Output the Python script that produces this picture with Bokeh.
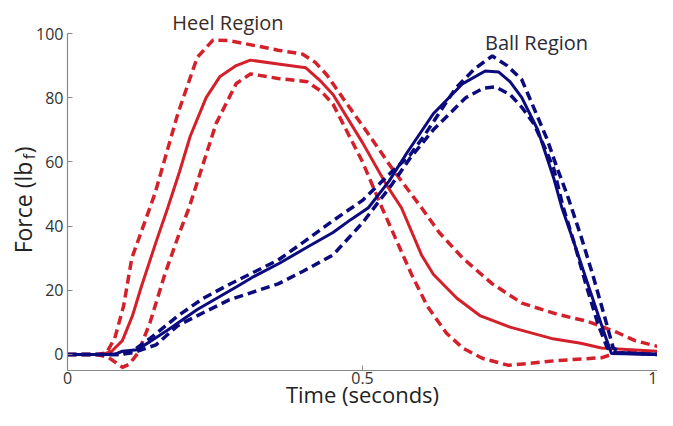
import math
from bokeh.plotting import figure
from bokeh.models import Range1d, Label, FixedTicker
from bokeh.embed import file_html
from bokeh.resources import INLINE

# ---------------- data ----------------
heel_mean_t = [0, 0.06, 0.075, 0.093, 0.11, 0.125, 0.15, 0.17, 0.19, 0.208, 0.235, 0.258, 0.286, 0.31,
               0.357, 0.404, 0.43, 0.45, 0.5, 0.54, 0.566, 0.6, 0.62, 0.66, 0.70, 0.75, 0.82, 0.87, 0.905, 1.0]
heel_mean_f = [0, 0, 1, 4.3, 12, 21, 35, 45.7, 57, 68, 80, 86.5, 90, 91.7,
               90.5, 89.3, 85, 81, 66, 53, 45.7, 31, 25, 17.5, 12, 8.5, 5, 3.5, 2, 1]

heel_upper_t = [0, 0.05, 0.066, 0.08, 0.095, 0.109, 0.148, 0.187, 0.22, 0.247, 0.274, 0.357, 0.398, 0.42,
                0.44, 0.47, 0.505, 0.55, 0.6, 0.63, 0.67, 0.72, 0.77, 0.83, 0.88, 0.93, 0.962, 1.0]
heel_upper_f = [0, 0, 0.5, 5, 15, 30, 50, 75, 92.6, 98, 97.8, 94.8, 93.6, 91,
                87, 79, 70, 58, 45.7, 38, 30, 22, 16, 12.5, 10.4, 7, 4.3, 2.5]

heel_lower_t = [0, 0.05, 0.07, 0.093, 0.105, 0.12, 0.14, 0.165, 0.19, 0.206, 0.22, 0.252, 0.286, 0.31,
                0.357, 0.406, 0.43, 0.45, 0.5, 0.533, 0.583, 0.61, 0.642, 0.67, 0.703, 0.748, 0.824, 0.906, 0.93, 1.0]
heel_lower_f = [0, 0, -1, -4, -3, 0.6, 10, 25, 38, 45.7, 53.7, 72, 84.4, 87.4,
                86, 85, 82, 78, 60, 45.7, 25, 15, 6.7, 2, -1.2, -3.4, -2, -1, 0.5, 0.5]

ball_mean_t = [0, 0.08, 0.093, 0.118, 0.14, 0.17, 0.22, 0.286, 0.313, 0.36, 0.406, 0.45, 0.48, 0.51,
               0.545, 0.576, 0.62, 0.67, 0.708, 0.731, 0.75, 0.77, 0.797, 0.824, 0.838, 0.86, 0.88, 0.9,
               0.913, 0.922, 1.0]
ball_mean_f = [0, 0, 1, 1.5, 4, 7.6, 14, 21, 24, 28.5, 33.4, 38, 42, 45.7,
               54, 63, 75, 84.4, 88.3, 88, 85, 80, 70, 55, 45.7, 34, 23, 12,
               5, 0.3, 0]

ball_upper_t = [0, 0.09, 0.11, 0.14, 0.187, 0.23, 0.274, 0.357, 0.40, 0.45, 0.5, 0.55, 0.58, 0.604,
                0.658, 0.69, 0.72, 0.745, 0.77, 0.79, 0.813, 0.83, 0.847, 0.87, 0.89, 0.91, 0.925, 0.94, 1.0]
ball_upper_f = [0, 0, 1, 5, 12, 17.5, 21.8, 29.4, 35, 41.7, 48, 57, 62, 68,
                83, 89, 93, 90, 85.6, 77, 67, 58, 49.7, 37, 25, 12, 2, 0.5, 0]

ball_lower_t = [0, 0.09, 0.11, 0.15, 0.187, 0.23, 0.274, 0.357, 0.40, 0.45, 0.5, 0.55, 0.58, 0.62,
                0.675, 0.705, 0.725, 0.75, 0.77, 0.79, 0.81, 0.824, 0.84, 0.86, 0.88, 0.90, 0.915, 0.93, 1.0]
ball_lower_f = [0, 0, 0.5, 3, 9, 13, 17, 22, 26, 31, 41, 53, 61, 70,
                80, 83, 83.4, 81, 77, 72, 64, 58, 46, 34, 21, 9, 2, 0.5, 0]

y_ticks = [0, 20, 40, 60, 80, 100]
x_ticks = [0, 0.5, 1]
x_tick_labels = {0: "0", 0.5: "0.5", 1: "1"}

RED = "#d4202a"
BLUE = "#0b0b7e"
FONT = "Open Sans"

W, H = 657, 410
AXIS_PX = 67                      # canvas x of the y-axis (t = 0)
X_START = -AXIS_PX / (W - AXIS_PX)
TOP_PX, BOTTOM_PX = 33, 370       # canvas y of force 100 and of the axis bottom (-5)
Y_AXIS_MIN = -5
PPU = (BOTTOM_PX - TOP_PX) / (100 - Y_AXIS_MIN)
Y_END = 100 + TOP_PX / PPU
Y_START = Y_END - H / PPU

p = figure(width=W, height=H, output_backend="svg", toolbar_location=None,
           x_range=Range1d(X_START, 1), y_range=Range1d(Y_START, Y_END),
           min_border_left=0, min_border_right=0, min_border_top=0, min_border_bottom=0)
p.outline_line_color = None
p.grid.grid_line_color = None
p.background_fill_color = "white"

for ax in (p.xaxis[0], p.yaxis[0]):
    ax.axis_line_color = "#8a8a8a"
    ax.axis_line_width = 1.2
    ax.major_tick_line_color = "#8a8a8a"
    ax.major_tick_in = 5
    ax.major_tick_out = 0
    ax.minor_tick_line_color = None
    ax.major_label_text_font = FONT
    ax.major_label_text_font_size = "16px"
    ax.major_label_text_color = "#333333"

p.yaxis.fixed_location = 0
p.xaxis.fixed_location = Y_AXIS_MIN
p.yaxis.bounds = (Y_AXIS_MIN, 100)
p.xaxis.bounds = (0, 1)
p.yaxis.ticker = FixedTicker(ticks=y_ticks)
p.xaxis.ticker = FixedTicker(ticks=x_ticks)
p.xaxis.major_label_overrides = x_tick_labels
p.yaxis.major_label_standoff = 4
p.xaxis.major_label_standoff = 1

# curves
p.line(heel_upper_t, heel_upper_f, line_color=RED, line_width=3.5, line_dash="9 5")
p.line(heel_lower_t, heel_lower_f, line_color=RED, line_width=3.5, line_dash="9 5")
p.line(heel_mean_t, heel_mean_f, line_color=RED, line_width=3)
p.line(ball_upper_t, ball_upper_f, line_color=BLUE, line_width=3.5, line_dash="9 5")
p.line(ball_lower_t, ball_lower_f, line_color=BLUE, line_width=3.5, line_dash="9 5")
p.line(ball_mean_t, ball_mean_f, line_color=BLUE, line_width=3)

# region labels
p.add_layout(Label(x=0.272, y=100 + 11 / PPU, text="Heel Region", text_font=FONT, text_font_size="20px",
                   text_color="#3a2c24", text_align="center", text_baseline="middle"))
p.add_layout(Label(x=0.795, y=100 - 9 / PPU, text="Ball Region", text_font=FONT, text_font_size="20px",
                   text_color="#2a2a3a", text_align="center", text_baseline="middle"))

# x-axis title (below the axis line)
p.add_layout(Label(x=0.5, y=Y_AXIS_MIN - 23 / PPU, text="Time (seconds)", text_font=FONT,
                   text_font_size="22px", text_color="#222222", text_align="center",
                   text_baseline="middle"))

# y-axis title with subscript (rotated), left of the axis
px_unit = 1 / (W - AXIS_PX)
y0 = 31.5
lbl_kw = dict(angle=math.pi / 2, text_font=FONT, text_color="#222222",
              text_baseline="middle", text_align="left")
p.add_layout(Label(x=X_START + 22 * px_unit, y=y0, text="Force (lb", text_font_size="23px", **lbl_kw))
p.add_layout(Label(x=X_START + 28 * px_unit, y=y0 + 94 / PPU, text="f", text_font_size="16px", **lbl_kw))
p.add_layout(Label(x=X_START + 22 * px_unit, y=y0 + 100 / PPU, text=")", text_font_size="23px", **lbl_kw))

open("out.html", "w").write(file_html(p, INLINE))
